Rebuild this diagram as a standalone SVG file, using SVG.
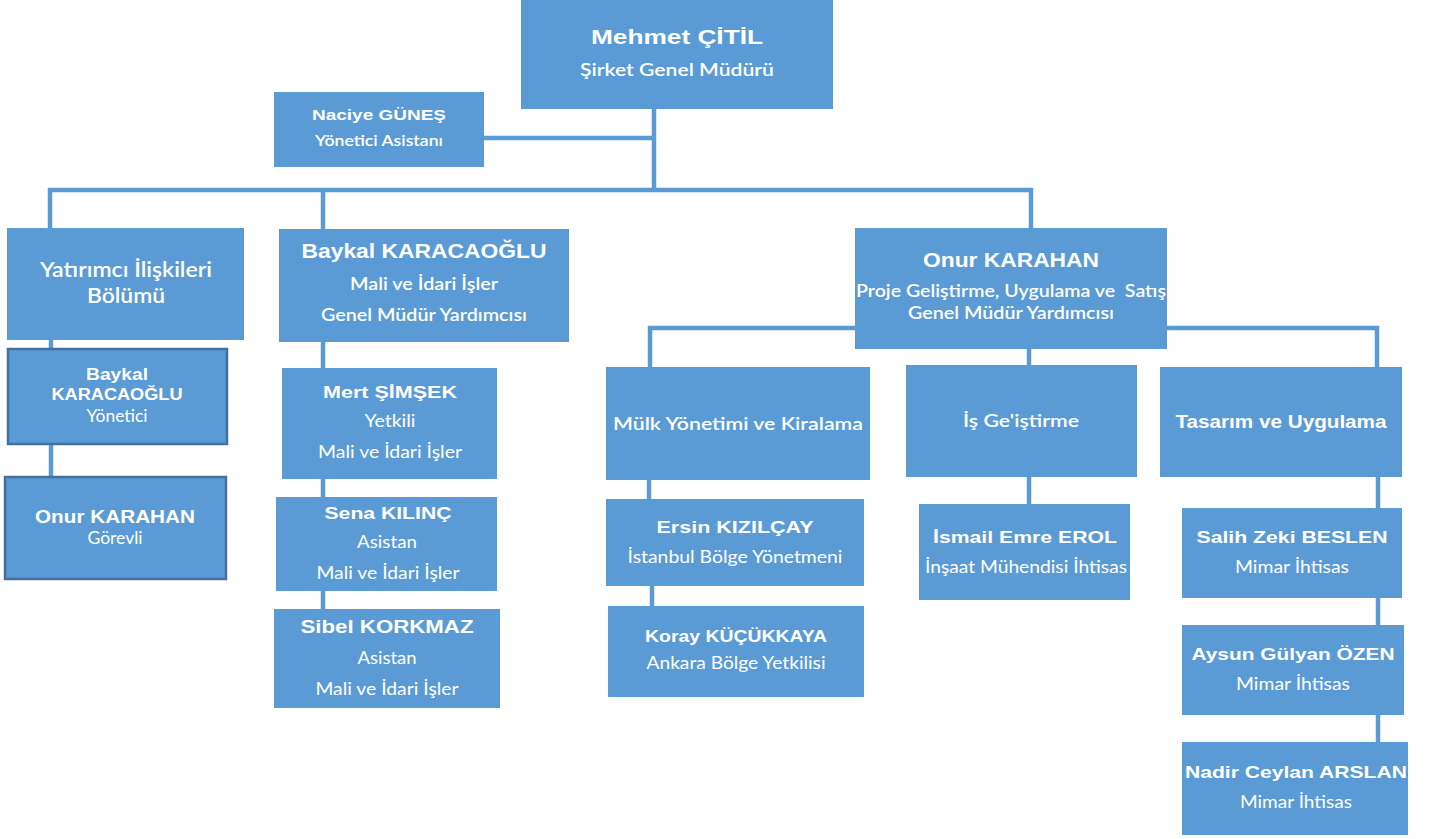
<svg xmlns="http://www.w3.org/2000/svg" width="1435" height="839" viewBox="0 0 1435 839">
<style>
.box{fill:#5B9BD5}
.boxd{fill:#5B9BD5;stroke:#41719C;stroke-width:2.5}
.ln{stroke:#5B9BD5;stroke-width:4.5;fill:none;stroke-linecap:square}
text{fill:#fff;text-anchor:middle}
.b{font-family:"Liberation Sans",Arial,sans-serif;font-weight:bold}
.s{font-family:Lato,"Open Sans",sans-serif;font-weight:600}
.r{font-family:Lato,"Open Sans",sans-serif;font-weight:normal}
</style>
<rect width="1435" height="839" fill="#fff"/>
<g id="connectors">
<path class="ln" d="M654 109V190M484 138H654M50 190H1031M50 190V228M323 190V229M1031 190V228"/>
<path class="ln" d="M51 340V349M51 444V477"/>
<path class="ln" d="M323 342V368M323 479V497M323 591V609"/>
<path class="ln" d="M855 328H650V367M649 480V499M652 586V606"/>
<path class="ln" d="M1029 349V365M1029 477V504"/>
<path class="ln" d="M1167 328H1377V367M1378 477V508M1378 598V625M1378 715V742"/>
</g>
<g id="n-mehmet"><rect class="box" x="521" y="0" width="312" height="109"/>
<text class="b" x="677" y="44" font-size="21" textLength="172" lengthAdjust="spacingAndGlyphs">Mehmet ÇİTİL</text>
<text class="s" x="677" y="76" font-size="18" textLength="194" lengthAdjust="spacingAndGlyphs">Şirket Genel Müdürü</text></g>
<g id="n-naciye"><rect class="box" x="274" y="92" width="210" height="75"/>
<text class="b" x="379" y="120" font-size="15" textLength="134" lengthAdjust="spacingAndGlyphs">Naciye GÜNEŞ</text>
<text class="s" x="379" y="146" font-size="15" textLength="128" lengthAdjust="spacingAndGlyphs">Yönetici Asistanı</text></g>
<g id="n-yatirimci"><rect class="box" x="7" y="228" width="237" height="112"/>
<text class="s" x="126" y="277" font-size="21" textLength="172" lengthAdjust="spacingAndGlyphs">Yatırımcı İlişkileri</text>
<text class="s" x="126" y="303" font-size="21" textLength="78" lengthAdjust="spacingAndGlyphs">Bölümü</text></g>
<g id="n-baykal-gmy"><rect class="box" x="279" y="229" width="290" height="113"/>
<text class="b" x="424" y="258" font-size="21" textLength="245" lengthAdjust="spacingAndGlyphs">Baykal KARACAOĞLU</text>
<text class="s" x="424" y="290" font-size="17" textLength="148" lengthAdjust="spacingAndGlyphs">Mali ve İdari İşler</text>
<text class="s" x="424" y="321" font-size="17" textLength="206" lengthAdjust="spacingAndGlyphs">Genel Müdür Yardımcısı</text></g>
<g id="n-onur-gmy"><rect class="box" x="855" y="228" width="312" height="121"/>
<text class="b" x="1011" y="267" font-size="20" textLength="176" lengthAdjust="spacingAndGlyphs">Onur KARAHAN</text>
<text class="s" x="1011" y="297" font-size="17" textLength="310" lengthAdjust="spacingAndGlyphs" xml:space="preserve">Proje Geliştirme, Uygulama ve  Satış</text>
<text class="s" x="1011" y="319" font-size="17" textLength="206" lengthAdjust="spacingAndGlyphs">Genel Müdür Yardımcısı</text></g>
<g id="n-baykal-yon"><rect class="boxd" x="8" y="349" width="219" height="95"/>
<text class="b" x="117" y="380" font-size="16" textLength="62" lengthAdjust="spacingAndGlyphs">Baykal</text>
<text class="b" x="117" y="400" font-size="16" textLength="131" lengthAdjust="spacingAndGlyphs">KARACAOĞLU</text>
<text class="r" x="117" y="422" font-size="17" textLength="61" lengthAdjust="spacingAndGlyphs">Yönetici</text></g>
<g id="n-onur-gor"><rect class="boxd" x="5" y="477" width="221" height="102"/>
<text class="b" x="115" y="523" font-size="18" textLength="160" lengthAdjust="spacingAndGlyphs">Onur KARAHAN</text>
<text class="r" x="115" y="544" font-size="17" textLength="55" lengthAdjust="spacingAndGlyphs">Görevli</text></g>
<g id="n-mert"><rect class="box" x="282" y="368" width="215" height="111"/>
<text class="b" x="390" y="398" font-size="17" textLength="134" lengthAdjust="spacingAndGlyphs">Mert ŞİMŞEK</text>
<text class="r" x="390" y="427" font-size="18" textLength="51" lengthAdjust="spacingAndGlyphs">Yetkili</text>
<text class="r" x="390" y="458" font-size="18" textLength="144" lengthAdjust="spacingAndGlyphs">Mali ve İdari İşler</text></g>
<g id="n-sena"><rect class="box" x="276" y="497" width="221" height="94"/>
<text class="b" x="388" y="519" font-size="17" textLength="127" lengthAdjust="spacingAndGlyphs">Sena KILINÇ</text>
<text class="r" x="387" y="548" font-size="18" textLength="60" lengthAdjust="spacingAndGlyphs">Asistan</text>
<text class="r" x="388" y="579" font-size="18" textLength="143" lengthAdjust="spacingAndGlyphs">Mali ve İdari İşler</text></g>
<g id="n-sibel"><rect class="box" x="274" y="609" width="226" height="99"/>
<text class="b" x="387" y="633" font-size="19" textLength="173" lengthAdjust="spacingAndGlyphs">Sibel KORKMAZ</text>
<text class="r" x="387" y="664" font-size="18" textLength="59" lengthAdjust="spacingAndGlyphs">Asistan</text>
<text class="r" x="387" y="695" font-size="18" textLength="143" lengthAdjust="spacingAndGlyphs">Mali ve İdari İşler</text></g>
<g id="n-mulk"><rect class="box" x="606" y="367" width="264" height="113"/>
<text class="s" x="738" y="430" font-size="18" textLength="250" lengthAdjust="spacingAndGlyphs">Mülk Yönetimi ve Kiralama</text></g>
<g id="n-is"><rect class="box" x="906" y="365" width="231" height="112"/>
<text class="s" x="1021" y="427" font-size="18" textLength="116" lengthAdjust="spacingAndGlyphs">İş Ge'iştirme</text></g>
<g id="n-tasarim"><rect class="box" x="1160" y="367" width="242" height="110"/>
<text class="b" x="1281" y="428" font-size="18" textLength="211" lengthAdjust="spacingAndGlyphs">Tasarım ve Uygulama</text></g>
<g id="n-ersin"><rect class="box" x="606" y="499" width="258" height="87"/>
<text class="b" x="735" y="533" font-size="16" textLength="157" lengthAdjust="spacingAndGlyphs">Ersin KIZILÇAY</text>
<text class="r" x="735" y="563" font-size="17" textLength="215" lengthAdjust="spacingAndGlyphs">İstanbul Bölge Yönetmeni</text></g>
<g id="n-koray"><rect class="box" x="608" y="606" width="256" height="91"/>
<text class="b" x="736" y="642" font-size="16" textLength="182" lengthAdjust="spacingAndGlyphs">Koray KÜÇÜKKAYA</text>
<text class="r" x="736" y="669" font-size="17" textLength="179" lengthAdjust="spacingAndGlyphs">Ankara Bölge Yetkilisi</text></g>
<g id="n-ismail"><rect class="box" x="919" y="504" width="211" height="96"/>
<text class="b" x="1025" y="543" font-size="17" textLength="184" lengthAdjust="spacingAndGlyphs">İsmail Emre EROL</text>
<text class="r" x="1026" y="573" font-size="17" textLength="202" lengthAdjust="spacingAndGlyphs">İnşaat Mühendisi İhtisas</text></g>
<g id="n-salih"><rect class="box" x="1182" y="508" width="220" height="90"/>
<text class="b" x="1292" y="543" font-size="17" textLength="191" lengthAdjust="spacingAndGlyphs">Salih Zeki BESLEN</text>
<text class="r" x="1292" y="573" font-size="17" textLength="114" lengthAdjust="spacingAndGlyphs">Mimar İhtisas</text></g>
<g id="n-aysun"><rect class="box" x="1182" y="625" width="222" height="90"/>
<text class="b" x="1293" y="660" font-size="17" textLength="203" lengthAdjust="spacingAndGlyphs">Aysun Gülyan ÖZEN</text>
<text class="r" x="1293" y="690" font-size="17" textLength="114" lengthAdjust="spacingAndGlyphs">Mimar İhtisas</text></g>
<g id="n-nadir"><rect class="box" x="1182" y="742" width="226" height="93"/>
<text class="b" x="1296" y="778" font-size="17" textLength="222" lengthAdjust="spacingAndGlyphs">Nadir Ceylan ARSLAN</text>
<text class="r" x="1296" y="808" font-size="17" textLength="112" lengthAdjust="spacingAndGlyphs">Mimar İhtisas</text></g>
</svg>
